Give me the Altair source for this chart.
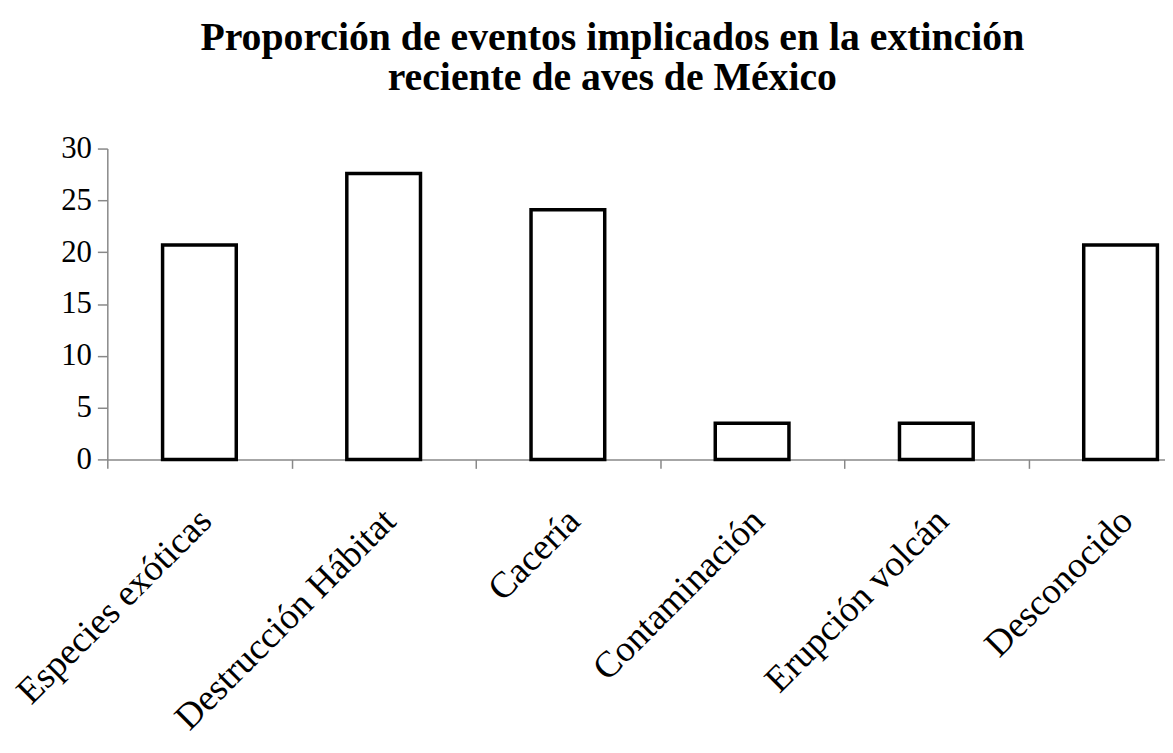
import altair as alt
import pandas as pd

categorias = ["Especies exóticas", "Destrucción Hábitat", "Cacería",
              "Contaminación", "Erupción volcán", "Desconocido"]
valores = [20.7, 27.6, 24.1, 3.5, 3.5, 20.7]
titulo = ["Proporción de eventos implicados en la extinción",
          "reciente de aves de México"]

df = pd.DataFrame({"categoria": categorias, "valor": valores})

FONT = "Liberation Serif"

chart = alt.Chart(df).mark_bar(
    fill="white", stroke="black", strokeWidth=3.5,
    width=alt.RelativeBandSize(0.4)
).encode(
    x=alt.X("categoria:N", sort=categorias, title=None,
            scale=alt.Scale(range=[0, 1113], paddingInner=0, paddingOuter=0),
            axis=alt.Axis(labelAngle=-45, labelAlign="right", labelBaseline="middle",
                          labelFont=FONT, labelFontSize=37, labelColor="black",
                          labelPadding=47, labelOffset=6, labelLimit=0,
                          tickBand="extent", tickSize=9, tickColor="#888888",
                          domainColor="#888888", domainWidth=1.5, tickWidth=1.5,
                          labelOverlap=False)),
    y=alt.Y("valor:Q", title=None,
            scale=alt.Scale(domain=[0, 30], nice=False),
            axis=alt.Axis(values=[0, 5, 10, 15, 20, 25, 30], grid=False,
                          labelFont=FONT, labelFontSize=31, labelColor="black",
                          labelPadding=6, tickSize=10, tickColor="#888888",
                          domainColor="#888888", domainWidth=1.5, tickWidth=1.5)),
).properties(
    width=1065, height=313,
    title=alt.TitleParams(titulo, font=FONT, fontSize=40, fontWeight="bold",
                          color="black", anchor="middle", dx=-24, offset=35,
                          lineHeight=40),
    autosize=alt.AutoSizeParams(type="none"),
    padding={"left": 100, "top": 139, "right": 0, "bottom": 280},
    background="white",
).configure_view(stroke=None)

chart.save("out.html", embed_options={"renderer": "svg", "actions": False})
